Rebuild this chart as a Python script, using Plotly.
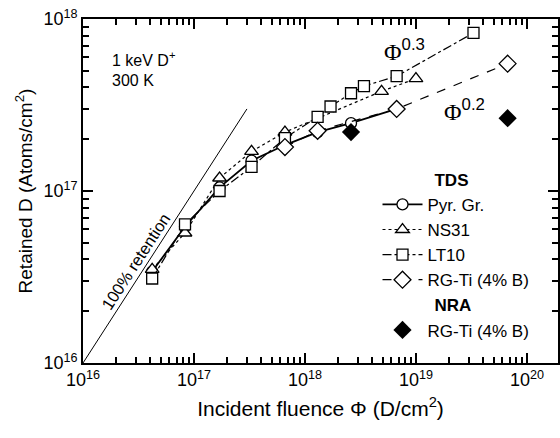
import plotly.graph_objects as go

# Incident fluence (D/cm^2) and retained D (atoms/cm^2)
pyr_x = [4.2e16, 8.3e16, 1.7e17, 3.3e17, 6.6e17, 1.3e18, 2.6e18, 6.7e18]
pyr_y = [3.4e16, 6.2e16, 1.05e17, 1.5e17, 1.85e17, 2.2e17, 2.48e17, 3.0e17]

ns31_x = [4.2e16, 8.3e16, 1.7e17, 3.3e17, 6.6e17, 4.9e18, 1.0e19]
ns31_y = [3.5e16, 5.7e16, 1.19e17, 1.7e17, 2.2e17, 3.8e17, 4.5e17]

lt10_x = [4.2e16, 8.3e16, 1.7e17, 3.3e17, 6.6e17, 1.3e18, 1.7e18, 2.6e18, 3.4e18, 6.7e18, 3.3e19]
lt10_y = [3.1e16, 6.4e16, 1.0e17, 1.38e17, 2.03e17, 2.7e17, 3.1e17, 3.7e17, 4.07e17, 4.65e17, 8.3e17]

rgti_x = [6.6e17, 1.3e18, 6.7e18, 6.7e19]
rgti_y = [1.8e17, 2.24e17, 3.0e17, 5.5e17]

nra_x = [2.6e18, 6.7e19]
nra_y = [2.2e17, 2.65e17]

# 100% retention: retained = incident
ret_x = [1e16, 3.0e17]
ret_y = [1e16, 3.0e17]

X_DECADES = [16, 17, 18, 19, 20]
Y_DECADES = [16, 17, 18]

SANS = "Liberation Sans, Arial, sans-serif"
SERIF = "Liberation Serif, Times New Roman, serif"
NB = "\u00a0"
X_RANGE = [16, 20.28]
Y_RANGE = [16, 18]


def all_ticks(decades):
    vals, texts = [], []
    for e in decades:
        for m in range(1, 10):
            vals.append(m * 10.0 ** e)
            texts.append(f"10<sup>{e}</sup>" if m == 1 else "")
    return vals, texts


fig = go.Figure()

# retention line sits on the overlay axes that carry the long decade ticks
fig.add_trace(go.Scatter(
    x=ret_x, y=ret_y, mode="lines", xaxis="x2", yaxis="y2",
    line=dict(color="black", width=1),
    showlegend=False, hoverinfo="skip",
))

series = [
    ("Pyr. Gr.", pyr_x, pyr_y, "circle", "solid", 1.8, 11),
    ("NS31", ns31_x, ns31_y, "triangle-up", "dot", 1.2, 12),
    ("LT10", lt10_x, lt10_y, "square", "dashdot", 1.2, 11),
    ("RG-Ti (4% B)", rgti_x, rgti_y, "diamond", "dash", 1.2, 13),
]
for i, (name, xs, ys, sym, dash, lw, ms) in enumerate(series):
    fig.add_trace(go.Scatter(
        x=xs, y=ys, mode="lines+markers", name=name,
        line=dict(color="black", width=lw, dash=dash),
        marker=dict(symbol=sym, size=ms, color="white",
                    line=dict(color="black", width=1.3)),
        legendgroup="tds",
        legendgrouptitle=dict(text=NB * 11 + "<b>TDS</b>") if i == 0 else None,
    ))

fig.add_trace(go.Scatter(
    x=nra_x, y=nra_y, mode="markers", name="RG-Ti (4% B)",
    marker=dict(symbol="diamond", size=14, color="black"),
    legendgroup="nra",
    legendgrouptitle=dict(text=NB * 11 + "<b>NRA</b>"),
))

# text labels, positions given in log10 axis units
annos = [
    (16.24, 17.77, "1 keV D<sup>+</sup>", 16, 0, "left"),
    (16.24, 17.64, "300 K", 16, 0, "left"),
    (16.47, 16.59, "100% retention", 16.5, -57, "center"),
]
for ax_, ay_, txt, fs, ang, anc in annos:
    fig.add_annotation(x=ax_, y=ay_, text=txt, showarrow=False,
                       xanchor=anc, yanchor="middle",
                       font=dict(family=SANS, size=fs, color="black"),
                       textangle=ang)

for ax_, ay_, exp in [(18.9, 17.82, "0.3"), (19.44, 17.47, "0.2")]:
    fig.add_annotation(
        x=ax_, y=ay_, showarrow=False, xanchor="center", yanchor="middle",
        text=f'Φ<sup><span style="font-family:Liberation Sans">{exp}</span></sup>',
        font=dict(family=SERIF, size=24, color="black"),
    )

base = dict(
    type="log", showgrid=False, zeroline=False, automargin=False,
    ticks="inside", tickcolor="#000000", tickwidth=1.6, tickangle=0,
    layer="above traces",
)

xv, xt = all_ticks(X_DECADES)
yv, yt = all_ticks(Y_DECADES)

fig.update_layout(
    width=560, height=438,
    margin=dict(l=83, r=2, t=19, b=75),
    plot_bgcolor="white", paper_bgcolor="white",
    font=dict(family=SANS, size=17, color="black"),
    xaxis=dict(range=X_RANGE, tickmode="array", tickvals=xv, ticktext=xt,
               ticklen=6, showline=True, linecolor="black", linewidth=1.6,
               mirror="ticks",
               tickfont=dict(family=SANS, size=18, color="black"),
               title=dict(text="Incident fluence Φ (D/cm<sup>2</sup>)" + NB * 10,
                          font=dict(size=21), standoff=12),
               **base),
    yaxis=dict(range=Y_RANGE, tickmode="array", tickvals=yv, ticktext=yt,
               ticklen=6, showline=True, linecolor="black", linewidth=1.6,
               mirror="ticks",
               tickfont=dict(family=SANS, size=18, color="black"),
               title=dict(text="Retained D (Atoms/cm<sup>2</sup>)",
                          font=dict(size=19), standoff=6),
               **base),
    xaxis2=dict(range=X_RANGE, overlaying="x", anchor="y2", side="bottom",
                tickmode="array", tickvals=[10.0 ** e for e in X_DECADES],
                ticklen=10, showticklabels=False, showline=False, mirror="ticks",
                **base),
    yaxis2=dict(range=Y_RANGE, overlaying="y", anchor="x2", side="left",
                tickmode="array", tickvals=[10.0 ** e for e in Y_DECADES],
                ticklen=10, showticklabels=False, showline=False, mirror="ticks",
                **base),
    legend=dict(x=0.62, y=0.585, xanchor="left", yanchor="top",
                bgcolor="rgba(0,0,0,0)", font=dict(size=17),
                grouptitlefont=dict(size=17), tracegroupgap=0,
                itemwidth=40),
    showlegend=True,
)

fig.write_html("out.html", config={"displayModeBar": False},
               post_script="document.body.style.margin='0px';")
